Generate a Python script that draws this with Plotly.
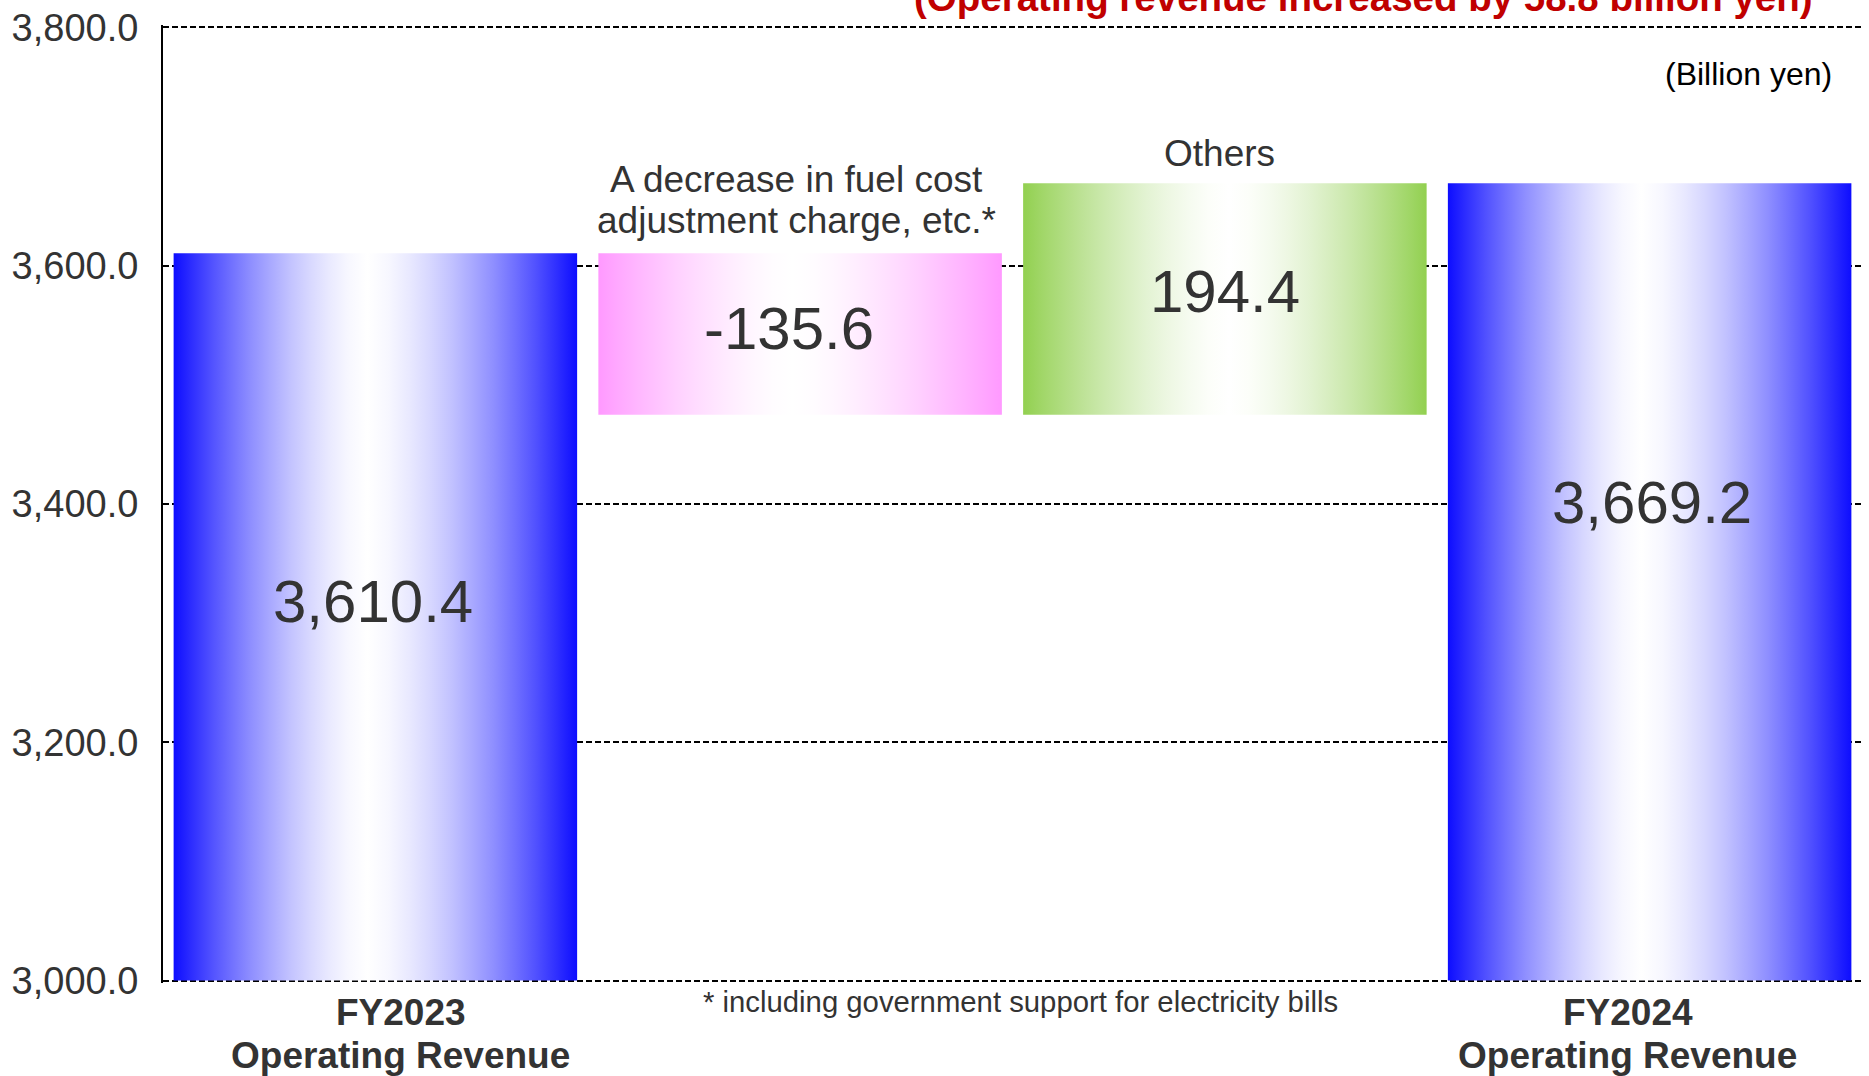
import plotly.graph_objects as go

# ---------------- data ----------------
categories = ["FY2023<br>Operating Revenue",
              "A decrease in fuel cost<br>adjustment charge, etc.*",
              "Others",
              "FY2024<br>Operating Revenue"]
measures = ["total", "relative", "relative", "total"]
values = [3610.4, -135.6, 194.4, 3669.2]
value_labels = ["3,610.4", "-135.6", "194.4", "3,669.2"]
y_tick_vals = [3000, 3200, 3400, 3600, 3800]
y_tick_text = ["3,000.0", "3,200.0", "3,400.0", "3,600.0", "3,800.0"]
unit_label = "(Billion yen)"
footnote = "* including government support for electricity bills"

# ---------------- styles ----------------
FONT = "Liberation Sans, Arial, Helvetica, sans-serif"
TXT = "#333333"
BAR_W = 0.95
AXIS_MIN, AXIS_MAX = y_tick_vals[0], y_tick_vals[-1]
PAD = 2  # small padding so that edge gridlines are drawn
edge_colors = [(13, 13, 255), (255, 153, 255), (146, 208, 80), (13, 13, 255)]
white_pos = [0.48, 0.48, 0.51, 0.48]
label_xshift = [-2, -11, 0, 2]
label_yshift = [15, 6, 8, 79]
bottom_dx = [0.06, 0, 0, -0.051]


def gradient(edge, center, n=10, p=1.5):
    stops = []
    for k in range(n + 1):
        t = k / n
        mix = 1 - (1 - t) ** p
        c = tuple(round(e + (255 - e) * mix) for e in edge)
        stops.append([center * t, "rgb(%d,%d,%d)" % c])
    for k in range(n - 1, -1, -1):
        t = k / n
        mix = 1 - (1 - t) ** p
        c = tuple(round(e + (255 - e) * mix) for e in edge)
        stops.append([center + (1 - center) * (1 - t), "rgb(%d,%d,%d)" % c])
    return stops


# waterfall geometry from data
lows, highs = [], []
running = 0.0
for m, v in zip(measures, values):
    if m == "total":
        lo, hi = 0.0, v
        running = v
    else:
        lo, hi = sorted([running, running + v])
        running = running + v
    lows.append(lo)
    highs.append(hi)

fig = go.Figure()
for i in range(len(values)):
    x0, x1 = i - BAR_W / 2, i + BAR_W / 2
    lo = max(lows[i], AXIS_MIN)  # truncated value axis
    fig.add_trace(go.Scatter(
        x=[x0, x1, x1, x0, x0],
        y=[lo, lo, highs[i], highs[i], lo],
        mode="lines", line=dict(width=0), fill="toself",
        fillgradient=dict(type="horizontal",
                          colorscale=gradient(edge_colors[i], white_pos[i])),
        hoverinfo="skip", showlegend=False))

annotations = []
# value labels
for i in range(len(values)):
    lo = max(lows[i], AXIS_MIN)
    annotations.append(dict(
        x=i, y=(lo + highs[i]) / 2,
        xref="x", yref="y", text=value_labels[i], showarrow=False,
        xanchor="center", yanchor="middle",
        xshift=label_xshift[i], yshift=label_yshift[i],
        font=dict(family=FONT, size=60, color=TXT)))

# category labels for the total bars (below axis)
for i in (0, 3):
    l1, l2 = categories[i].split("<br>")
    annotations.append(dict(x=i + bottom_dx[i], y=AXIS_MIN, xref="x", yref="y",
                            text="<b>" + l1 + "</b>", showarrow=False,
                            xanchor="center", yanchor="middle", yshift=-32,
                            font=dict(family=FONT, size=37, color=TXT)))
    annotations.append(dict(x=i + bottom_dx[i], y=AXIS_MIN, xref="x", yref="y",
                            text="<b>" + l2 + "</b>", showarrow=False,
                            xanchor="center", yanchor="middle", yshift=-75,
                            font=dict(family=FONT, size=37, color=TXT)))
# category labels for the change bars (above bars)
line1, line2 = categories[1].split("<br>")
annotations.append(dict(x=1, y=highs[1], xref="x", yref="y", text=line1,
                        showarrow=False, xanchor="center", yanchor="middle",
                        yshift=74, xshift=-4,
                        font=dict(family=FONT, size=37, color=TXT)))
annotations.append(dict(x=1, y=highs[1], xref="x", yref="y", text=line2,
                        showarrow=False, xanchor="center", yanchor="middle",
                        yshift=33, xshift=-4,
                        font=dict(family=FONT, size=37, color=TXT)))
annotations.append(dict(x=2, y=highs[2], xref="x", yref="y", text=categories[2],
                        showarrow=False, xanchor="center", yanchor="middle",
                        yshift=30, xshift=-5,
                        font=dict(family=FONT, size=37, color=TXT)))
# footnote
annotations.append(dict(x=1.5, y=AXIS_MIN, xref="x", yref="y", text=footnote,
                        showarrow=False, xanchor="center", yanchor="middle",
                        yshift=-21, xshift=8,
                        font=dict(family=FONT, size=29.3, color=TXT)))
# unit
annotations.append(dict(x=0.9812, y=AXIS_MAX, xref="paper", yref="y", text=unit_label,
                        showarrow=False, xanchor="right", yanchor="middle",
                        yshift=-47, xshift=4,
                        font=dict(family=FONT, size=32, color="#000000")))
# title (partially cut at top, as in the source)
diff = values[3] - values[0]
annotations.append(dict(x=0.7066, y=AXIS_MAX, xref="paper", yref="y",
                        text="<b>(Operating revenue increased by %.1f billion yen)</b>" % diff,
                        showarrow=False, xanchor="center", yanchor="middle", yshift=30,
                        font=dict(family=FONT, size=38.5, color="#C00000")))

fig.update_layout(
    width=1869, height=1076,
    margin=dict(l=163, r=7, t=21, b=93),
    plot_bgcolor="white", paper_bgcolor="white",
    showlegend=False,
    annotations=annotations,
    xaxis=dict(range=[-0.5, 3.5], showgrid=False, zeroline=False,
               showticklabels=False, showline=False, fixedrange=True),
    yaxis=dict(range=[AXIS_MIN - PAD, AXIS_MAX + PAD], tickvals=y_tick_vals,
               ticktext=y_tick_text,
               showgrid=True, gridcolor="#000000", gridwidth=1.5, griddash="6px,3px",
               zeroline=False, showline=True, linecolor="#000000", linewidth=2,
               ticks="", ticklabelstandoff=15,
               tickfont=dict(family=FONT, size=38, color=TXT)),
)

fig.write_html("out.html")
